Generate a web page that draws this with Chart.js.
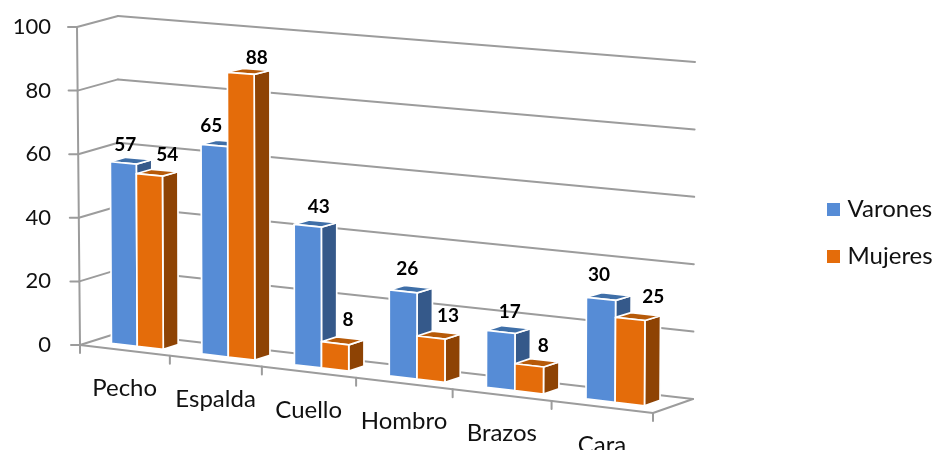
<!DOCTYPE html>
<html lang="es">
<head>
<meta charset="utf-8">
<style>
  html, body { margin: 0; padding: 0; background: #fff; }
  #wrap { position: relative; width: 935px; height: 450px; }
</style>
<script src="https://cdn.jsdelivr.net/npm/chart.js@4/dist/chart.umd.min.js"></script>
</head>
<body>
<div id="wrap"><canvas id="c" width="935" height="450"></canvas></div>
<script>
const categories = ['Pecho', 'Espalda', 'Cuello', 'Hombro', 'Brazos', 'Cara'];
const varones = [57, 65, 43, 26, 17, 30];
const mujeres = [54, 88, 8, 13, 8, 25];
const yTicks = [0, 20, 40, 60, 80, 100];

// Hand placement of the value labels, relative to the top of each bar's front face.
const varonesLabelNudge = [[2, -18], [-3, -20], [11, -19], [4, -23], [9, -20], [-2, -24]];
const mujeresLabelNudge = [[18, -20], [16, -15], [13, -23], [17, -22], [14, -19], [23, -22]];

const FONT = 'Lato, Carlito, sans-serif';
const GRID = '#9c9c9c';
const faces = [
  { front: '#568CD6', side: '#35598A', top: '#3F6FA8' },
  { front: '#E46C0A', side: '#8E4304', top: '#B75A08' }
];

// Corners of the 3D box the plot lives in: front/back plane, value 0/100.
const box = {
  f0: { l: [80, 345], r: [653, 413] },
  f1: { l: [77, 27], r: [655, 68] },
  b0: { l: [118, 333], r: [693, 399] },
  b1: { l: [118, 16], r: [695, 62] }
};
const PERSPECTIVE = 0.07;
const BAR_FRONT = 0.33, BAR_BACK = 0.72;

const mix = (a, b, t) => [a[0] + (b[0] - a[0]) * t, a[1] + (b[1] - a[1]) * t];

function projector(chart) {
  const ca = chart.chartArea;
  // Pixel position from the chart's scales -> position on the perspective box.
  return (px, py, depth) => {
    const u = (px - ca.left) / (ca.right - ca.left);
    const v = (ca.bottom - py) / (ca.bottom - ca.top);
    const g = (1 - PERSPECTIVE) * u / (1 - PERSPECTIVE * u);
    const front = mix(mix(box.f0.l, box.f0.r, g), mix(box.f1.l, box.f1.r, g), v);
    const back = mix(mix(box.b0.l, box.b0.r, g), mix(box.b1.l, box.b1.r, g), v);
    return mix(front, back, depth);
  };
}

function poly(ctx, pts, fill, stroke, lw) {
  ctx.beginPath();
  pts.forEach((p, i) => i ? ctx.lineTo(p[0], p[1]) : ctx.moveTo(p[0], p[1]));
  ctx.closePath();
  if (fill) { ctx.fillStyle = fill; ctx.fill(); }
  if (stroke) { ctx.strokeStyle = stroke; ctx.lineWidth = lw; ctx.lineJoin = 'round'; ctx.stroke(); }
}

function segment(ctx, a, b) {
  ctx.beginPath();
  ctx.moveTo(a[0], a[1]);
  ctx.lineTo(b[0], b[1]);
  ctx.stroke();
}

const bars3d = {
  id: 'bars3d',
  afterLayout(chart) {
    // Legend block sits lower and further right than the default slot.
    const lg = chart.legend;
    const h = lg.bottom - lg.top;
    lg.left = 808.5;
    lg.right = 935;
    lg.top = 74;
    lg.bottom = lg.top + h;
  },
  beforeDatasetsDraw(chart) {
    const ctx = chart.ctx;
    const P = projector(chart);
    const ca = chart.chartArea;
    const xs = chart.scales.x, ys = chart.scales.y;

    ctx.save();
    ctx.strokeStyle = GRID;
    ctx.lineWidth = 2;
    ctx.lineCap = 'round';

    // Wall and floor grid lines, drawn from the value axis.
    yTicks.forEach(t => {
      const y = ys.getPixelForValue(t);
      const fl = P(ca.left, y, 0), bl = P(ca.left, y, 1), br = P(ca.right, y, 1);
      segment(ctx, [fl[0] - 9, fl[1]], fl);
      segment(ctx, fl, bl);
      segment(ctx, bl, br);
    });
    // Front edges of the floor and the upright axis.
    segment(ctx, P(ca.left, ys.bottom, 0), P(ca.right, ys.bottom, 0));
    segment(ctx, P(ca.right, ys.bottom, 0), P(ca.right, ys.bottom, 1));
    segment(ctx, P(ca.left, ys.top, 0), P(ca.left, ys.bottom, 0));

    // Category tick marks under the floor edge.
    const step = (ca.right - ca.left) / categories.length;
    for (let i = 0; i <= categories.length; i++) {
      const a = P(ca.left + step * i, ys.bottom, 0);
      segment(ctx, a, [a[0], a[1] + 8]);
    }

    // Boxes: side, top, then front so each one hides what is behind it.
    const metas = [chart.getDatasetMeta(0), chart.getDatasetMeta(1)];
    categories.forEach((_, i) => {
      metas.forEach((meta, s) => {
        const el = meta.data[i];
        const l = el.x - el.width / 2, r = el.x + el.width / 2;
        const c = faces[s];
        poly(ctx, [P(r, el.y, BAR_FRONT), P(r, el.y, BAR_BACK), P(r, el.base, BAR_BACK), P(r, el.base, BAR_FRONT)], c.side, '#fff', 1.7);
        poly(ctx, [P(l, el.y, BAR_FRONT), P(l, el.y, BAR_BACK), P(r, el.y, BAR_BACK), P(r, el.y, BAR_FRONT)], c.top, '#fff', 1.7);
        poly(ctx, [P(l, el.y, BAR_FRONT), P(r, el.y, BAR_FRONT), P(r, el.base, BAR_FRONT), P(l, el.base, BAR_FRONT)], c.front, '#fff', 1.7);
      });
    });

    // Value labels.
    ctx.fillStyle = '#000';
    ctx.textAlign = 'center';
    ctx.textBaseline = 'middle';
    ctx.font = 'bold 19px ' + FONT;
    const nudges = [varonesLabelNudge, mujeresLabelNudge];
    metas.forEach((meta, s) => {
      meta.data.forEach((el, i) => {
        const p = P(el.x, el.y, BAR_FRONT);
        const value = chart.data.datasets[s].data[i];
        ctx.fillText(String(value), p[0] + nudges[s][i][0], p[1] + nudges[s][i][1]);
      });
    });

    // Category names follow the slant of the floor.
    ctx.font = '24px ' + FONT;
    ctx.fillStyle = '#111';
    categories.forEach((name, i) => {
      const p = P(xs.getPixelForValue(i), ys.bottom, 0);
      ctx.fillText(name, p[0], p[1] + 38);
    });
    ctx.restore();
    return false; // the flat native bars are replaced by the boxes above
  }
};

new Chart(document.getElementById('c'), {
  type: 'bar',
  data: {
    labels: categories,
    datasets: [
      { label: 'Varones', data: varones, backgroundColor: faces[0].front, borderWidth: 0 },
      { label: 'Mujeres', data: mujeres, backgroundColor: faces[1].front, borderWidth: 0 }
    ]
  },
  options: {
    responsive: false,
    animation: false,
    events: [],
    datasets: { bar: { categoryPercentage: 0.576, barPercentage: 1 } },
    layout: { autoPadding: false, padding: { top: 27, bottom: 105, left: 0, right: 0 } },
    scales: {
      x: { display: false },
      y: {
        min: 0,
        max: 100,
        afterBuildTicks: s => { s.ticks = yTicks.map(v => ({ value: v })); },
        afterFit: s => { s.width = 80; s.paddingTop = 0; s.paddingBottom = 0; },
        grid: { display: false, drawTicks: false },
        border: { display: false },
        ticks: { color: '#111', padding: 29, font: { family: FONT, size: 22 } }
      }
    },
    plugins: {
      tooltip: { enabled: false },
      legend: {
        position: 'right',
        labels: {
          usePointStyle: true,
          pointStyle: 'rect',
          boxWidth: 4,
          boxHeight: 13,
          padding: 23,
          color: '#111',
          font: { family: FONT, size: 24 }
        }
      }
    }
  },
  plugins: [bars3d]
});
</script>
</body>
</html>
